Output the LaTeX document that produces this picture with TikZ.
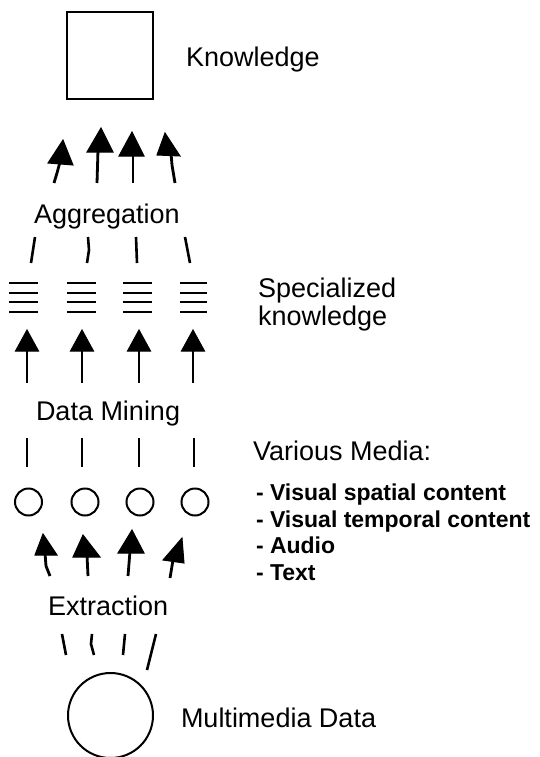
\documentclass[tikz,border=0pt]{standalone}
\usepackage{fontspec}
\setmainfont{Liberation Sans}
\begin{document}
\begin{tikzpicture}[x=1pt,y=-1pt,line width=2pt,
  lbl/.style={anchor=base west,inner sep=0pt,font=\fontsize{27}{32}\selectfont},
  itm/.style={anchor=base west,inner sep=0pt,font=\bfseries\fontsize{23}{27}\selectfont},
  shaft/.style={line width=2.8pt},
  head/.style={fill=black,draw=black,line width=1pt,line join=miter},
  tick/.style={line width=2.6pt},
  bar/.style={line width=2.6pt},
  hollow/.style={draw,circle,inner sep=0pt,line width=2pt}]
\useasboundingbox (0,0) rectangle (540,757);

% top box
\node[draw,minimum width=86pt,minimum height=87pt,inner sep=0pt] (box) at (110,55.5) {};
\node[lbl] (tknow) at (185,67) {Knowledge};

% arrows to knowledge
\coordinate (k1s) at (54,183); \coordinate (k1t) at (63,140);
\coordinate (k2s) at (97,183); \coordinate (k2t) at (101,128);
\coordinate (k3s) at (133,183); \coordinate (k3t) at (132,132);
\coordinate (k4s) at (175,183); \coordinate (k4t) at (165,133);
\draw[shaft] (k1s) -- (57,173) -- (60,162);
\fill[head] (k1t) -- (48,163) -- (73,165) -- cycle;
\draw[shaft] (k2s) -- (98,150);
\fill[head] (k2t) -- (87,152) -- (113,152) -- cycle;
\draw[shaft] (k3s) -- (133,154);
\fill[head] (k3t) -- (119,156) -- (144,156) -- cycle;
\draw[shaft] (k4s) -- (172,165) -- (171,153);
\fill[head] (k4t) -- (157,155) -- (180,156) -- cycle;

\node[lbl] (tagg) at (33,223) {Aggregation};

% ticks below aggregation
\coordinate (g1a) at (35,237); \coordinate (g1b) at (31,263);
\coordinate (g2a) at (88,237); \coordinate (g2b) at (87,263);
\coordinate (g3a) at (136,237); \coordinate (g3b) at (137,263);
\coordinate (g4a) at (185,237); \coordinate (g4b) at (190,263);
\draw[tick] (g1a) -- (g1b);
\draw[tick] (g2a) -- (89,250) -- (g2b);
\draw[tick] (g3a) -- (g3b);
\draw[tick] (g4a) -- (g4b);

% specialized knowledge stacks
\foreach \xa/\xb in {9/38,67/96,123/152,180/207}{
  \foreach \y in {283,293,302,312}{
    \draw[bar] (\xa,\y) -- (\xb,\y);
  }
}
\node[lbl] (tspec1) at (257,297) {Specialized};
\node[lbl] (tspec2) at (257,325) {knowledge};

% arrows from data mining
\foreach \x [count=\i] in {27,82,139,193}{
  \coordinate (m\i s) at (\x,383);
  \coordinate (m\i t) at (\x,330);
  \draw[shaft] (m\i s) -- (\x,348);
  \fill[head] (m\i t) -- (\x-11.5,351) -- (\x+11.5,351) -- cycle;
}
\node[lbl] (tdm) at (35,420) {Data Mining};

% ticks below data mining
\foreach \x [count=\i] in {27,82,139,194}{
  \coordinate (d\i a) at (\x,438);
  \coordinate (d\i b) at (\x,467);
  \draw[tick] (d\i a) -- (d\i b);
}

% media circles
\node[hollow,minimum size=27pt] (c1) at (28.5,502) {};
\node[hollow,minimum size=27pt] (c2) at (85,502) {};
\node[hollow,minimum size=27pt] (c3) at (140,502) {};
\node[hollow,minimum size=27pt] (c4) at (195,502) {};

\node[lbl] (tvm) at (252,460) {Various Media:};
\node[itm] (i1) at (255,500) {- Visual spatial content};
\node[itm] (i2) at (255,527) {- Visual temporal content};
\node[itm] (i3) at (255,553) {- Audio};
\node[itm] (i4) at (255,580) {- Text};

% arrows from extraction
\coordinate (e1s) at (50,576); \coordinate (e1t) at (43,534);
\coordinate (e2s) at (88,576); \coordinate (e2t) at (83,535);
\coordinate (e3s) at (128,576); \coordinate (e3t) at (132,530);
\coordinate (e4s) at (170,578); \coordinate (e4t) at (182,538);
\draw[shaft] (e1s) -- (46,566) -- (45,553);
\fill[head] (e1t) -- (35,555) -- (57,555) -- cycle;
\draw[shaft] (e2s) -- (87,555);
\fill[head] (e2t) -- (73,557) -- (100,557) -- cycle;
\draw[shaft] (e3s) -- (130,551);
\fill[head] (e3t) -- (118,553) -- (144,553) -- cycle;
\draw[shaft] (e4s) -- (172,566) -- (173,560);
\fill[head] (e4t) -- (163,560) -- (184,563) -- cycle;

\node[lbl] (text) at (47,615) {Extraction};

% ticks below extraction
\coordinate (x1a) at (62,634); \coordinate (x1b) at (66,655);
\coordinate (x2a) at (92,634); \coordinate (x2b) at (94,655);
\coordinate (x3a) at (125,634); \coordinate (x3b) at (123,655);
\coordinate (x4a) at (156,634); \coordinate (x4b) at (147,670);
\draw[tick] (x1a) -- (x1b);
\draw[tick] (x2a) -- (91,644) -- (x2b);
\draw[tick] (x3a) -- (x3b);
\draw[tick] (x4a) -- (x4b);

% multimedia data
\node[hollow,minimum size=85pt] (mm) at (110.5,715.5) {};
\node[lbl] (tmm) at (180,727) {Multimedia Data};
\end{tikzpicture}
\end{document}
